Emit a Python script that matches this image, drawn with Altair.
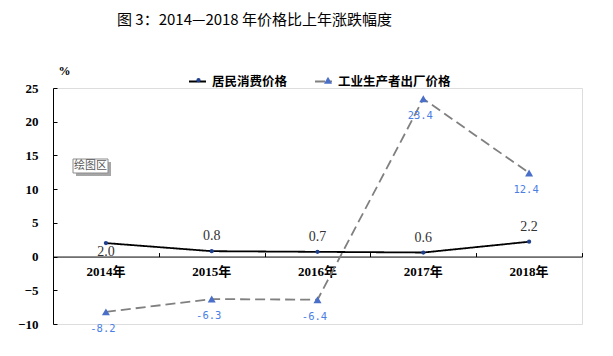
import altair as alt
import pandas as pd

years = ["2014年", "2015年", "2016年", "2017年", "2018年"]
cpi = [2.0, 0.8, 0.7, 0.6, 2.2]
ppi = [-8.2, -6.3, -6.4, 23.4, 12.4]
series_names = ["居民消费价格", "工业生产者出厂价格"]
y_ticks = [-10, -5, 0, 5, 10, 15, 20, 25]
title_text = "图 3：2014—2018 年价格比上年涨跌幅度"
note_text = "绘图区"

rows = []
for i, y in enumerate(years):
    rows.append({"year": y, "series": series_names[0], "value": cpi[i], "label": f"{cpi[i]:.1f}"})
for i, y in enumerate(years):
    rows.append({"year": y, "series": series_names[1], "value": ppi[i], "label": f"{ppi[i]:.1f}"})
df = pd.DataFrame(rows)
# marker-legend key (distinct domain so it is not merged with the line legend)
df["marker"] = df["series"] + " "
marker_names = [s + " " for s in series_names]

W, H = 529, 236
YMIN, YMAX = -10, 25
zero_from_top = H * YMAX / (YMAX - YMIN)

CN = "Noto Sans CJK SC"
SERIF = "Liberation Serif, Noto Sans CJK SC"

xscale = alt.Scale(type="band", domain=years, paddingInner=0, paddingOuter=0)
yscale = alt.Scale(domain=[YMIN, YMAX], nice=False, zero=False)

LX, LY = 135, -16
line_legend = alt.Legend(orient="none", legendX=LX, legendY=LY, direction="horizontal",
                         title=None, symbolType="stroke", symbolSize=289,
                         symbolStrokeWidth=1.8, labelOffset=5, columnPadding=23,
                         labelFont=CN, labelFontWeight="bold", labelFontSize=12.5,
                         labelColor="#000000", padding=0)
marker_legend = alt.Legend(orient="none", legendX=LX + 4, legendY=LY + 4, direction="horizontal",
                           title=None, symbolOffset=4, labelOffset=14, columnPadding=105,
                           labelFontSize=1, padding=0, symbolStrokeWidth=0,
                           labelExpr="''")

base = alt.Chart(df)

lines = base.mark_line(strokeWidth=1.8).encode(
    x=alt.X("year:N", scale=xscale, sort=years,
            axis=alt.Axis(orient="bottom", offset=-(H - zero_from_top), domain=False, ticks=False,
                          labelPadding=9, labelAngle=0, labelFont=SERIF, labelFontWeight="bold",
                          labelFontSize=13, labelColor="#000000", title=None)),
    y=alt.Y("value:Q", scale=yscale,
            axis=alt.Axis(orient="left", values=y_ticks, domain=False, ticks=False, grid=False,
                          labelPadding=15, labelFont=SERIF, labelFontWeight="bold", labelFontSize=13,
                          labelColor="#000000", title="%", titleAngle=0, titleX=11, titleY=-18,
                          titleAlign="center", titleBaseline="middle", titleFont=SERIF,
                          titleFontWeight="bold", titleFontSize=12, titleColor="#000000")),
    stroke=alt.Stroke("series:N", sort=series_names,
                      scale=alt.Scale(domain=series_names, range=["#000000", "#808080"]),
                      legend=line_legend),
    strokeDash=alt.StrokeDash("series:N", sort=series_names,
                              scale=alt.Scale(domain=series_names, range=[[1, 0], [10, 5]]),
                              legend=line_legend),
)

points = base.mark_point(filled=True, opacity=1).encode(
    x=alt.X("year:N", scale=xscale, sort=years,
            axis=alt.Axis(orient="top", offset=-zero_from_top, domain=True, domainColor="#000000",
                          domainWidth=1, ticks=True, tickSize=4, tickColor="#000000", tickBand="extent",
                          labels=False, title=None, grid=False)),
    y=alt.Y("value:Q", scale=yscale,
            axis=alt.Axis(orient="right", offset=-W, values=y_ticks, domain=True, domainColor="#000000",
                          ticks=True, tickSize=4, tickColor="#000000", labels=False, title=None,
                          grid=False)),
    fill=alt.Fill("marker:N", sort=marker_names,
                  scale=alt.Scale(domain=marker_names, range=["#1f3f8f", "#4a6fc9"]),
                  legend=marker_legend),
    shape=alt.Shape("marker:N", sort=marker_names,
                    scale=alt.Scale(domain=marker_names, range=["circle", "triangle-up"]),
                    legend=marker_legend),
    size=alt.Size("marker:N", sort=marker_names,
                  scale=alt.Scale(domain=marker_names, range=[18, 64]),
                  legend=marker_legend),
)

enc_xy = dict(
    x=alt.X("year:N", scale=xscale, sort=years, axis=None),
    y=alt.Y("value:Q", scale=yscale, axis=None),
    text="label:N",
)

cpi_above = base.transform_filter(
    (alt.datum.series == series_names[0]) & (alt.datum.year != years[0])
).mark_text(font=SERIF, fontSize=14, color="#333333", dy=-15).encode(**enc_xy)

cpi_below = base.transform_filter(
    (alt.datum.series == series_names[0]) & (alt.datum.year == years[0])
).mark_text(font=SERIF, fontSize=14, color="#333333", dy=9).encode(**enc_xy)

ppi_labels = base.transform_filter(
    alt.datum.series == series_names[1]
).mark_text(font="DejaVu Sans Mono", fontSize=10.5, color="#4a7ee6", dy=17, dx=-3).encode(**enc_xy)

note_df = pd.DataFrame({"t": [note_text]})
note_shadow = alt.Chart(note_df).mark_rect(color="#a6a6a6").encode(
    x=alt.value(23), x2=alt.value(58), y=alt.value(74), y2=alt.value(88))
note_box = alt.Chart(note_df).mark_rect(fill="#ffffff", stroke="#8c8c8c", strokeWidth=1).encode(
    x=alt.value(20), x2=alt.value(55), y=alt.value(71), y2=alt.value(85))
note_txt = alt.Chart(note_df).mark_text(font=CN, fontSize=11, color="#595959").encode(
    x=alt.value(37.5), y=alt.value(78), text="t:N")

chart = alt.layer(
    lines, points, cpi_above, cpi_below, ppi_labels, note_shadow, note_box, note_txt
).resolve_axis(x="independent", y="independent").properties(
    width=W, height=H,
    autosize=alt.AutoSizeParams(type="none"),
    padding={"left": 53, "top": 88, "right": 31, "bottom": 32},
    title=alt.TitleParams(title_text, anchor="start", frame="group", dx=64, offset=36,
                          font=CN, fontSize=15, fontWeight="normal", color="#000000"),
).configure_view(stroke=None).configure(background="#ffffff")

chart.save("out.html", embed_options={"renderer": "svg", "actions": False})
